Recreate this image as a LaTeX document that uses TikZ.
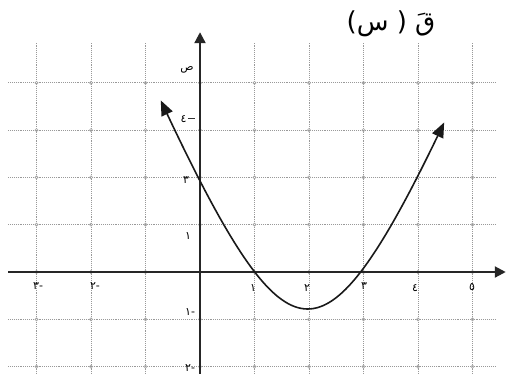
\documentclass[tikz,border=0pt]{standalone}
\usepackage{xcolor}
\usepackage{fontspec}
\usepackage{tikz}
\usetikzlibrary{arrows.meta, positioning, shapes}
\TeXXeTstate=1
\newfontfamily\arabicfont[Script=Arabic]{DejaVu Sans}
\newcommand{\ar}[1]{{\arabicfont\beginR #1\endR}}

\begin{document}
\begin{tikzpicture}[x=54.5pt, y=47.3pt,
        gridline/.style={gray!80, densely dotted, line width=0.9pt},
        axis/.style={black!85, line width=2.2pt, -{Triangle[length=11pt,width=11pt]}},
        curve/.style={black!90, line width=1.6pt, {Triangle[length=15pt,width=12pt]}-{Triangle[length=15pt,width=12pt]}},
        lbl/.style={font=\fontsize{11}{12}\selectfont, inner sep=0pt}]
    \useasboundingbox (-3.67,-2.156) rectangle (5.633,5.751);
    \foreach \i in {-3,-2,-1,1,2,3,4,5}
        \draw[gridline] (\i,-2.16) -- (\i,4.86);
    \foreach \j in {-2,-1,1,2,3,4}
        \draw[gridline] (-3.52,\j) -- (5.41,\j);
    \foreach \i in {-3,...,5}
        \foreach \j in {-2,...,4}
            \draw[gray!70, line width=0.6pt] (\i,\j) circle (1.6pt);

    \coordinate (xs) at (-3.52,0);
    \coordinate (xe) at (5.61,0);
    \coordinate (ys) at (0,-2.16);
    \coordinate (ye) at (0,5.07);
    \draw[axis] (xs) -- (xe);
    \draw[axis] (ys) -- (ye);

    \draw[curve, domain=-0.72:4.48, samples=90] plot (\x, {-0.782+4.6*(sqrt(1+((\x-1.975)/1.6)^2)-1)});

    \node (fx) at (3.505,5.243) {\arabicfont\fontsize{26}{28}\selectfont\beginR قَ ( س)\endR};

    \node[lbl] (ylab) at (-0.239,4.27) {\ar{ص}};
    \node[lbl] (y4) at (-0.3,3.235) {\ar{٤}};
    \draw[black!80, line width=1pt] (y4.east) ++(1pt,0) -- ++(7pt,0);
    \node[lbl] (y3) at (-0.257,1.945) {\ar{٣}};
    \node[lbl] (y1) at (-0.22,0.761) {\ar{١}};
    \node[lbl] (ym1) at (-0.183,-0.846) {\ar{-١}};
    \node[lbl] (ym2) at (-0.183,-2.03) {\ar{-٢}};

    \node[lbl] (xm3) at (-2.97,-0.296) {\ar{-٣}};
    \node[lbl] (xm2) at (-1.927,-0.296) {\ar{-٢}};
    \node[lbl] (x1) at (0.972,-0.338) {\ar{١}};
    \node[lbl] (x2) at (1.963,-0.338) {\ar{٢}};
    \node[lbl] (x3) at (3.01,-0.296) {\ar{٣}};
    \node[lbl] (x4) at (3.945,-0.338) {\ar{٤}};
    \node[lbl] (x5) at (4.99,-0.317) {\ar{٥}};
\end{tikzpicture}
\end{document}
